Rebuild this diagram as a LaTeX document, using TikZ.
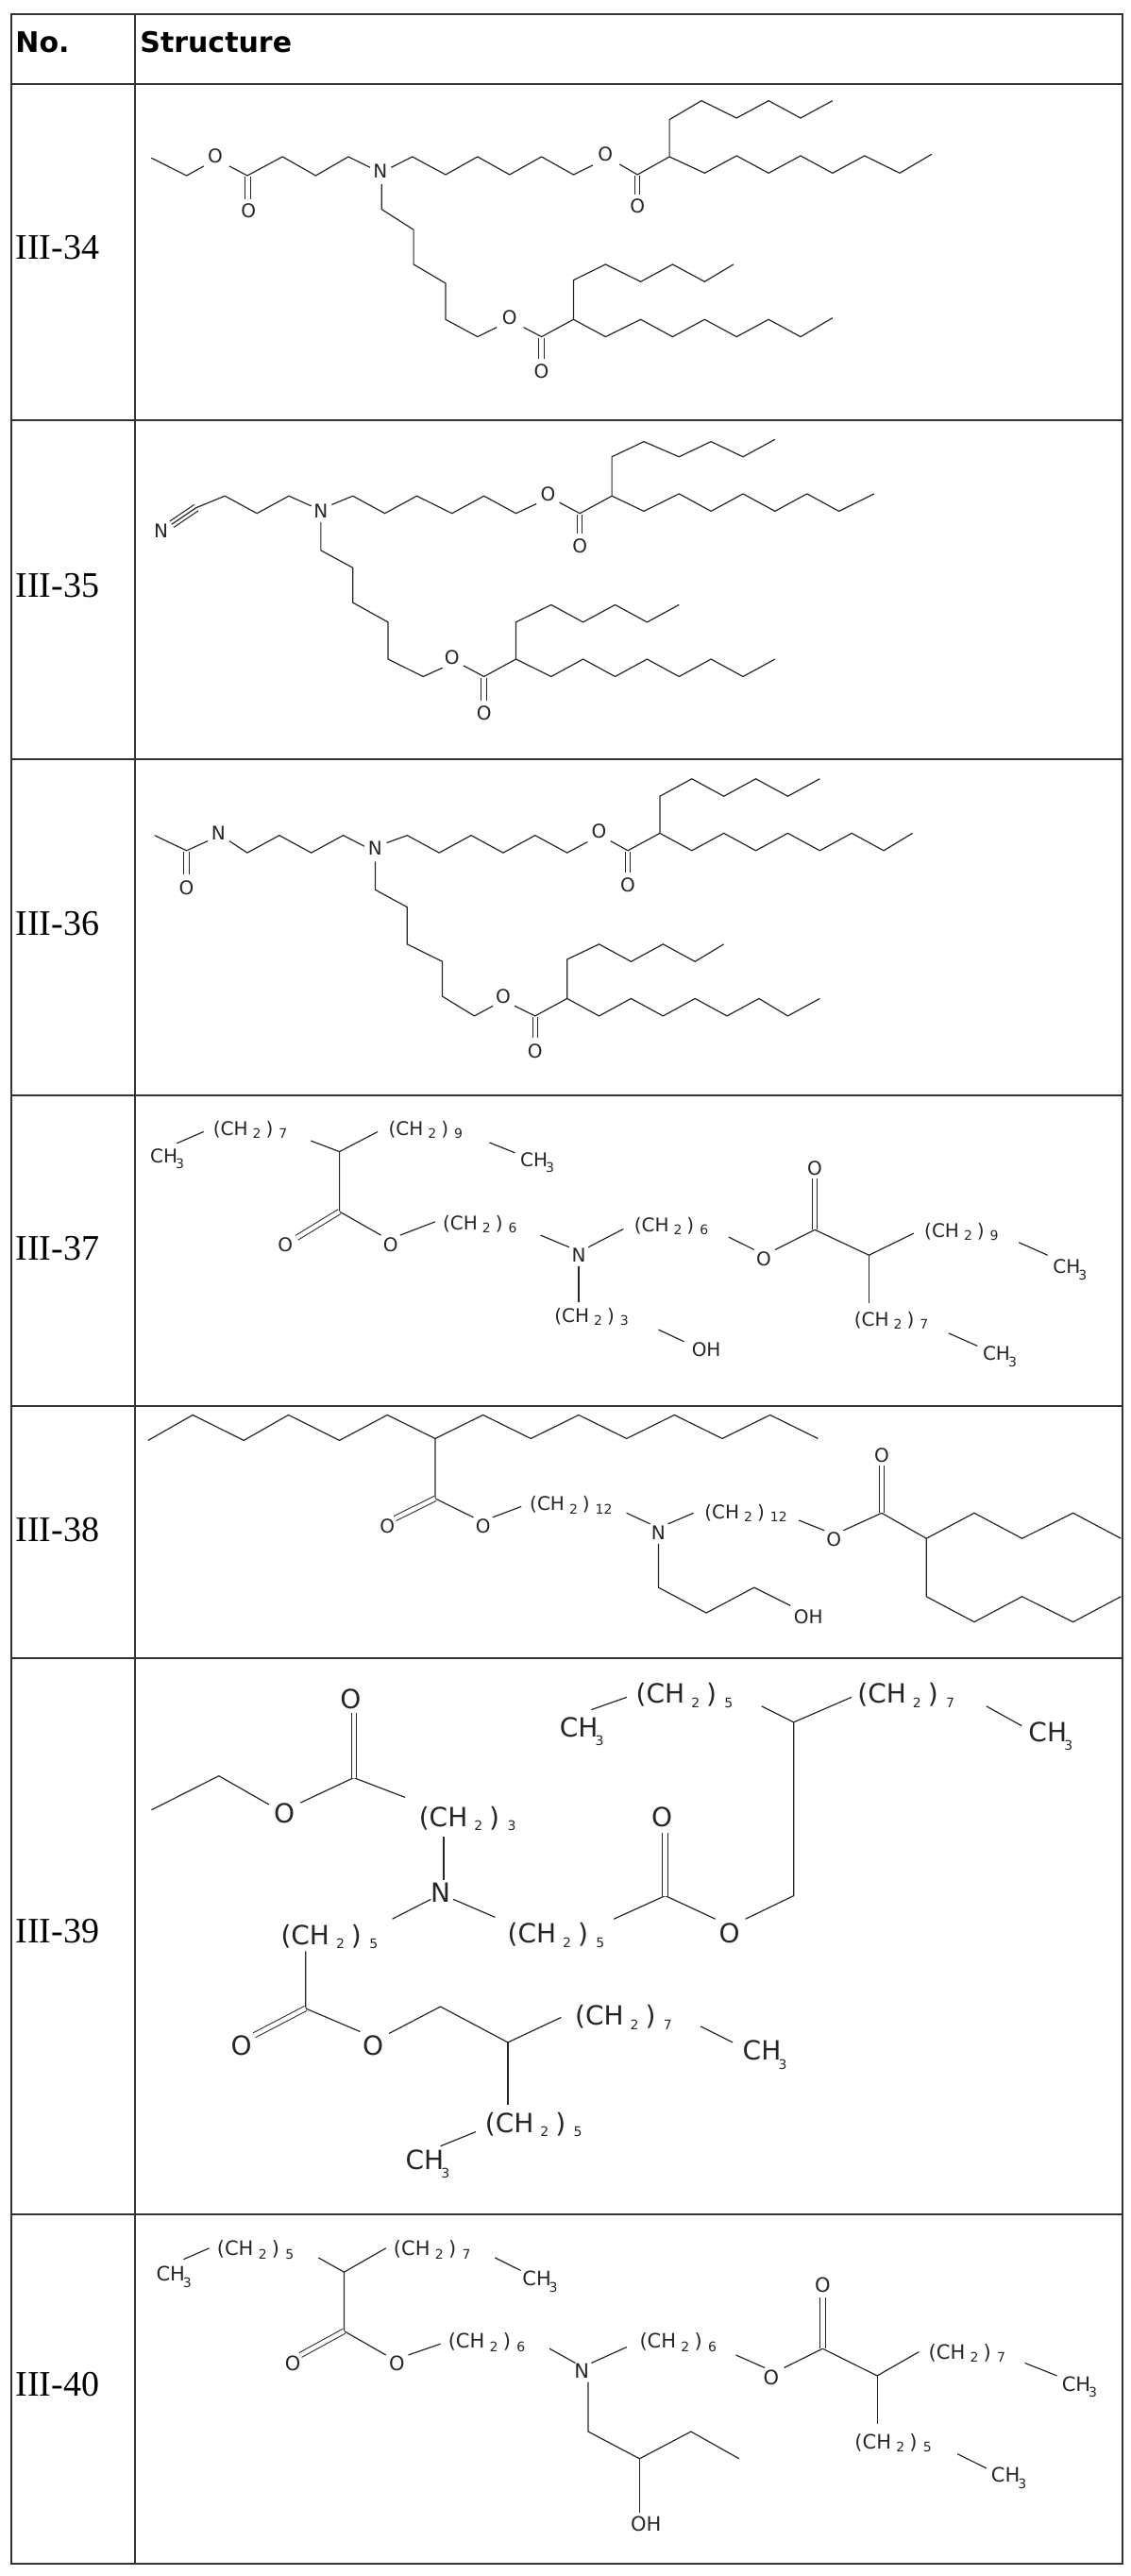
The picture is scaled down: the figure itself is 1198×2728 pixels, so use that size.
\documentclass[tikz,border=0pt]{standalone}
\usepackage{fontspec}
\setsansfont{DejaVu Sans}
\setmainfont{Liberation Serif}
\newcommand{\grp}[2]{(CH\kern0.25em\raisebox{-0.3ex}{\scriptsize #1}\kern0.25em)\kern0.3em\raisebox{-0.3ex}{\scriptsize #2}}
\newcommand{\mth}{CH\kern-0.1em\raisebox{-0.6ex}{\scriptsize 3}}
\begin{document}
\begin{tikzpicture}[x=0.5pt,y=-0.5pt,line join=miter]
\tikzset{
 bond/.style={line width=0.6pt,black!85},
 dbl/.style={line width=0.5pt,double,double distance=2.2pt,black!85},
 atm/.style={font=\sffamily\fontsize{10}{10}\selectfont,inner sep=0pt,text=black!85},
 atmb/.style={font=\sffamily\fontsize{10}{10}\selectfont,inner sep=0pt,text=black!85},
 atmc/.style={font=\sffamily\fontsize{14}{14}\selectfont,inner sep=0pt,text=black!85},
 atmd/.style={font=\sffamily\fontsize{10.5}{10.5}\selectfont,inner sep=0pt,text=black!85},
 rowlab/.style={font=\rmfamily\fontsize{19}{19}\selectfont,inner sep=0pt,anchor=west},
 hdr/.style={font=\sffamily\bfseries\fontsize{15}{15}\selectfont,inner sep=0pt,anchor=west},
 grid/.style={line width=1pt,black!80}
}
\useasboundingbox (0,0) rectangle (1198,2728);
% table
\draw[grid] (12,15) rectangle (1189,2715);
\draw[grid] (143,15) -- (143,2715);
\foreach \yy in {89,445,804,1160,1489,1756,2345} \draw[grid] (12,\yy) -- (1189,\yy);
\node[hdr] (h1) at (16,45) {No.};
\node[hdr] (h2) at (148,45) {Structure};
\node[rowlab] (r34) at (16,262) {III-34};
\node[rowlab] (r35) at (16,620) {III-35};
\node[rowlab] (r36) at (16,978) {III-36};
\node[rowlab] (r37) at (16,1322) {III-37};
\node[rowlab] (r38) at (16,1620) {III-38};
\node[rowlab] (r39) at (16,2045) {III-39};
\node[rowlab] (r40) at (16,2525) {III-40};

% ---------- III-34 ----------
\begin{scope}[shift={(140,80)},xscale=0.6775,yscale=0.3333]
\node[atm] (a1) at (130,255) {O};
\node[atm] (a2) at (182,430) {O};
\node[atm] (a3) at (388,305) {N};
\node[atm] (a4) at (740,250) {O};
\node[atm] (a5) at (790,415) {O};
\node[atm] (a6) at (590,770) {O};
\node[atm] (a7) at (640,940) {O};
\draw[bond] (30,262)--(85,318)--(112,288);
\draw[bond] (152,288)--(180,318)--(235,258)--(287,318)--(338,258)--(372,292);
\draw[dbl] (181,322)--(181,392);
\draw[bond] (405,292)--(438,258)--(490,315)--(540,258)--(590,315)--(640,258)--(690,315)--(720,285);
\draw[bond] (762,282)--(790,315)--(840,258)--(840,140)--(890,80)--(945,135)--(995,80)--(1045,135)--(1095,80);
\draw[bond] (840,258)--(895,310)--(945,255)--(995,310)--(1045,255)--(1095,310)--(1145,255)--(1200,310)--(1250,250);
\draw[dbl] (790,318)--(790,378);
\draw[bond] (390,345)--(390,425)--(440,490)--(440,600)--(490,660)--(490,775)--(540,830)--(570,800);
\draw[bond] (612,800)--(640,830)--(690,775)--(690,650)--(740,600)--(795,655)--(845,600)--(895,655)--(940,600);
\draw[bond] (690,775)--(740,830)--(795,775)--(845,830)--(895,775)--(945,830)--(995,775)--(1045,830)--(1095,770);
\draw[dbl] (640,833)--(640,900);
\end{scope}

% ---------- III-35 ----------
\begin{scope}[shift={(140,440)},xscale=0.6775,yscale=0.4608]
\node[atm] (b1) at (45,265) {N};
\node[atm] (b2) at (295,220) {N};
\node[atm] (b3) at (650,180) {O};
\node[atm] (b4) at (700,300) {O};
\node[atm] (b5) at (500,555) {O};
\node[atm] (b6) at (550,685) {O};
\draw[bond,double,double distance=3.2pt] (62,250)--(100,212);
\draw[bond] (62,250)--(100,212);
\draw[bond] (100,212)--(145,185)--(195,225)--(245,185)--(280,208);
\draw[bond] (312,205)--(345,185)--(395,225)--(445,185)--(500,225)--(550,185)--(600,225)--(632,203);
\draw[bond] (668,200)--(700,225)--(750,185)--(750,95)--(800,60)--(855,95)--(905,60)--(955,95)--(1005,55);
\draw[bond] (750,185)--(800,220)--(855,180)--(905,220)--(955,180)--(1005,220)--(1055,180)--(1105,220)--(1160,180);
\draw[dbl] (700,228)--(700,272);
\draw[bond] (295,245)--(295,310)--(345,350)--(345,430)--(400,475)--(400,560)--(455,600)--(485,580);
\draw[bond] (518,575)--(550,600)--(600,560)--(600,475)--(655,435)--(705,475)--(755,435)--(805,475)--(855,435);
\draw[bond] (600,560)--(655,600)--(705,560)--(755,600)--(805,560)--(855,600)--(905,560)--(955,600)--(1005,560);
\draw[dbl] (550,603)--(550,655);
\end{scope}

% ---------- III-36 ----------
\begin{scope}[shift={(140,440)},xscale=0.6775,yscale=0.4608]
\node[atm] (c1) at (135,960) {N};
\node[atm] (c2) at (85,1085) {O};
\node[atm] (c3) at (380,995) {N};
\node[atm] (c4) at (730,955) {O};
\node[atm] (c5) at (775,1080) {O};
\node[atm] (c6) at (580,1335) {O};
\node[atm] (c7) at (630,1460) {O};
\draw[bond] (35,965)--(85,1000)--(118,978);
\draw[dbl] (85,1003)--(85,1055);
\draw[bond] (152,978)--(180,1005)--(230,965)--(280,1005)--(330,965)--(363,990);
\draw[bond] (398,982)--(430,965)--(480,1005)--(530,965)--(580,1005)--(630,965)--(680,1005)--(712,980);
\draw[bond] (748,978)--(775,1000)--(825,960)--(825,875)--(875,835)--(925,875)--(975,835)--(1025,875)--(1075,835);
\draw[bond] (825,960)--(875,1000)--(925,960)--(975,1000)--(1025,960)--(1075,1000)--(1125,960)--(1175,1000)--(1220,960);
\draw[dbl] (775,1003)--(775,1050);
\draw[bond] (380,1025)--(380,1090)--(430,1130)--(430,1215)--(485,1255)--(485,1335)--(535,1380)--(564,1357);
\draw[bond] (598,1357)--(630,1380)--(680,1340)--(680,1250)--(730,1215)--(780,1255)--(830,1215)--(880,1255)--(925,1215);
\draw[bond] (680,1340)--(730,1380)--(780,1340)--(830,1380)--(880,1340)--(930,1380)--(980,1340)--(1025,1380)--(1075,1340);
\draw[dbl] (630,1383)--(630,1430);
\end{scope}

% ---------- III-37 ----------
\begin{scope}[shift={(140,1160)},xscale=0.6757,yscale=0.3846]
\node[atmb] (d1) at (55,175) {\mth};
\node[atmb] (d2) at (185,95) {\grp{2}{7}};
\node[atmb] (d3) at (460,95) {\grp{2}{9}};
\node[atmb] (d4) at (635,185) {\mth};
\node[atmb] (d5) at (240,412) {O};
\node[atmb] (d6) at (405,412) {O};
\node[atmb] (d7) at (545,355) {\grp{2}{6}};
\node[atmb] (d8) at (700,440) {N};
\node[atmb] (d9) at (845,360) {\grp{2}{6}};
\node[atmb] (d10) at (990,450) {O};
\node[atmb] (d11) at (1070,200) {O};
\node[atmb] (d12) at (1300,375) {\grp{2}{9}};
\node[atmb] (d13) at (1470,480) {\mth};
\node[atmb] (d14) at (1190,620) {\grp{2}{7}};
\node[atmb] (d15) at (1360,720) {\mth};
\node[atmb] (d16) at (720,610) {\grp{2}{3}};
\node[atmb] (d17) at (900,700) {OH};
\draw[bond] (70,132)--(112,100);
\draw[bond] (280,125)--(325,155)--(385,100);
\draw[bond] (560,130)--(600,158);
\draw[bond] (325,155)--(325,320)--(390,385);
\draw[dbl] (325,320)--(258,392);
\draw[bond] (420,385)--(475,348);
\draw[bond] (640,385)--(685,418);
\draw[bond] (715,418)--(770,368);
\draw[bond] (935,390)--(975,425);
\draw[bond] (1008,425)--(1070,370)--(1155,440)--(1225,380);
\draw[dbl] (1070,370)--(1070,230);
\draw[bond] (1390,405)--(1435,440);
\draw[bond] (1155,440)--(1155,572);
\draw[bond] (1280,655)--(1325,690);
\draw[bond] (700,470)--(700,570);
\draw[bond] (825,645)--(865,678);
\end{scope}

% ---------- III-38 ----------
\begin{scope}[shift={(140,1160)},xscale=0.6757,yscale=0.3846]
\node[atmb] (e1) at (400,1185) {O};
\node[atmb] (e2) at (550,1185) {O};
\node[atmb] (e3) at (688,1128) {\grp{2}{12}};
\node[atmb] (e4) at (825,1205) {N};
\node[atmb] (e5) at (962,1150) {\grp{2}{12}};
\node[atmb] (e6) at (1100,1222) {O};
\node[atmb] (e7) at (1175,990) {O};
\node[atmb] (e8) at (1060,1435) {OH};
\draw[bond] (25,950)--(95,880)--(175,950)--(245,880)--(325,950)--(400,880)--(475,945)--(550,880)--(625,945)--(700,880)--(775,945)--(850,880)--(925,945)--(1000,880)--(1075,945);
\draw[bond] (475,945)--(475,1110)--(535,1162);
\draw[dbl] (475,1110)--(412,1165);
\draw[bond] (565,1162)--(610,1132);
\draw[bond] (775,1150)--(812,1180);
\draw[bond] (840,1180)--(880,1150);
\draw[bond] (1045,1170)--(1085,1198);
\draw[bond] (1115,1198)--(1175,1150)--(1245,1220)--(1320,1150)--(1395,1220)--(1475,1150)--(1550,1220);
\draw[dbl] (1175,1150)--(1175,1020);
\draw[bond] (1245,1220)--(1245,1380)--(1320,1450)--(1395,1380)--(1475,1450)--(1550,1380);
\draw[bond] (825,1235)--(825,1355)--(900,1425)--(975,1355)--(1032,1405);
\end{scope}

% ---------- III-39 ----------
\begin{scope}[shift={(140,1750)},xscale=0.6803,yscale=0.3788]
\node[atmc] (f1) at (237,450) {O};
\node[atmc] (f2) at (340,130) {O};
\node[atmc] (f3) at (522,465) {\grp{2}{3}};
\node[atmc] (f4) at (480,670) {N};
\node[atmc] (f5) at (307,795) {\grp{2}{5}};
\node[atmc] (f6) at (660,790) {\grp{2}{5}};
\node[atmc] (f7) at (825,460) {O};
\node[atmc] (f8) at (930,785) {O};
\node[atmc] (f9) at (1205,120) {\grp{2}{7}};
\node[atmc] (f10) at (1430,235) {\mth};
\node[atmc] (f11) at (860,120) {\grp{2}{5}};
\node[atmc] (f12) at (700,220) {\mth};
\node[atmc] (f13) at (170,1100) {O};
\node[atmc] (f14) at (375,1100) {O};
\node[atmc] (f15) at (765,1020) {\grp{2}{7}};
\node[atmc] (f16) at (985,1125) {\mth};
\node[atmc] (f17) at (625,1320) {\grp{2}{5}};
\node[atmc] (f18) at (460,1430) {\mth};
\draw[bond] (30,440)--(135,345)--(213,425);
\draw[bond] (262,420)--(345,350)--(425,405);
\draw[dbl] (345,350)--(345,170);
\draw[bond] (485,515)--(485,635);
\draw[bond] (465,690)--(405,745);
\draw[bond] (500,690)--(565,740);
\draw[bond] (750,745)--(830,680)--(908,745);
\draw[dbl] (830,680)--(830,505);
\draw[bond] (955,745)--(1030,680)--(1030,195)--(1120,125);
\draw[bond] (1030,195)--(980,150);
\draw[bond] (1330,150)--(1385,205);
\draw[bond] (715,160)--(770,125);
\draw[bond] (270,835)--(270,995)--(355,1060);
\draw[dbl] (270,995)--(190,1070);
\draw[bond] (400,1065)--(480,990)--(585,1090)--(668,1020);
\draw[bond] (885,1045)--(935,1090);
\draw[bond] (585,1090)--(585,1265);
\draw[bond] (480,1380)--(535,1340);
\end{scope}

% ---------- III-40 ----------
\begin{scope}[shift={(140,2320)},xscale=0.6803,yscale=0.3378]
\node[atmd] (g1) at (65,270) {\mth};
\node[atmd] (g2) at (192,185) {\grp{2}{5}};
\node[atmd] (g3) at (467,185) {\grp{2}{7}};
\node[atmd] (g4) at (635,285) {\mth};
\node[atmd] (g5) at (250,540) {O};
\node[atmd] (g6) at (412,540) {O};
\node[atmd] (g7) at (552,475) {\grp{2}{6}};
\node[atmd] (g8) at (700,565) {N};
\node[atmd] (g9) at (850,475) {\grp{2}{6}};
\node[atmd] (g10) at (995,585) {O};
\node[atmd] (g11) at (1075,295) {O};
\node[atmd] (g12) at (1300,510) {\grp{2}{7}};
\node[atmd] (g13) at (1475,615) {\mth};
\node[atmd] (g14) at (1185,790) {\grp{2}{5}};
\node[atmd] (g15) at (1365,900) {\mth};
\node[atmd] (g16) at (800,1045) {OH};
\draw[bond] (80,215)--(120,180);
\draw[bond] (290,210)--(330,255)--(395,180);
\draw[bond] (565,210)--(605,250);
\draw[bond] (330,255)--(330,440)--(395,515);
\draw[dbl] (330,440)--(262,515);
\draw[bond] (430,515)--(480,480);
\draw[bond] (650,495)--(690,540);
\draw[bond] (715,540)--(770,490);
\draw[bond] (940,515)--(985,555);
\draw[bond] (1015,555)--(1075,495)--(1160,580)--(1225,505);
\draw[dbl] (1075,495)--(1075,335);
\draw[bond] (1390,540)--(1440,580);
\draw[bond] (1160,580)--(1160,730);
\draw[bond] (1285,825)--(1330,870);
\draw[bond] (710,600)--(710,755)--(790,840)--(870,755)--(945,840);
\draw[bond] (790,840)--(790,1010);
\end{scope}
\end{tikzpicture}
\end{document}
